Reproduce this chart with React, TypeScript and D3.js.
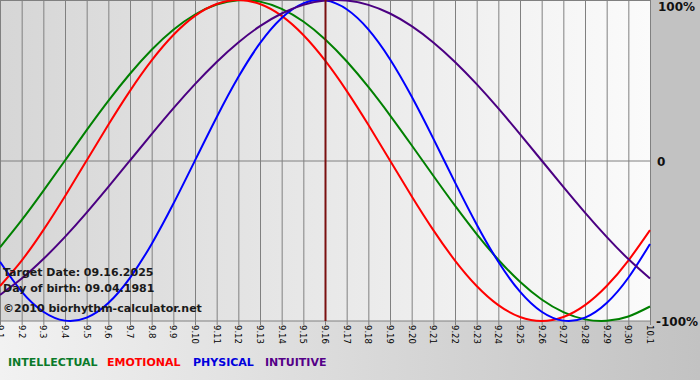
import React from 'react';
import * as d3 from 'd3';

const dates = ['9.1','9.2','9.3','9.4','9.5','9.6','9.7','9.8','9.9','9.10','9.11','9.12','9.13','9.14','9.15','9.16','9.17','9.18','9.19','9.20','9.21','9.22','9.23','9.24','9.25','9.26','9.27','9.28','9.29','9.30','10.1'];
const intellectual = [-0.5406,-0.3717,-0.1893,0,0.1893,0.3717,0.5406,0.6901,0.8146,0.9096,0.9718,0.9989,0.9898,0.9450,0.8660,0.7557,0.6182,0.4582,0.2817,0.0951,-0.0951,-0.2817,-0.4582,-0.6182,-0.7557,-0.8660,-0.9450,-0.9898,-0.9989,-0.9718,-0.9096];
const emotional = [-0.7818,-0.6235,-0.4339,-0.2225,0,0.2225,0.4339,0.6235,0.7818,0.9010,0.9749,1,0.9749,0.9010,0.7818,0.6235,0.4339,0.2225,0,-0.2225,-0.4339,-0.6235,-0.7818,-0.9010,-0.9749,-1,-0.9749,-0.9010,-0.7818,-0.6235,-0.4339];
const physical = [-0.6311,-0.8170,-0.9423,-0.9977,-0.9791,-0.8879,-0.7308,-0.5196,-0.2698,0,0.2698,0.5196,0.7308,0.8879,0.9791,0.9977,0.9423,0.8170,0.6311,0.3984,0.1362,-0.1362,-0.3984,-0.6311,-0.8170,-0.9423,-0.9977,-0.9791,-0.8879,-0.7308,-0.5196];
const intuitive = [-0.8372,-0.7357,-0.6142,-0.4759,-0.3247,-0.1646,0,0.1646,0.3247,0.4759,0.6142,0.7357,0.8372,0.9158,0.9694,0.9966,0.9966,0.9694,0.9158,0.8372,0.7357,0.6142,0.4759,0.3247,0.1646,0,-0.1646,-0.3247,-0.4759,-0.6142,-0.7357];
const seriesNames = ['INTELLECTUAL','EMOTIONAL','PHYSICAL','INTUITIVE'];
const yTickLabels = ['100%','0','-100%'];
const yTickValues = [1, 0, -1];
const targetIndex = 15;
const infoLines = ['Target Date: 09.16.2025', 'Day of birth: 09.04.1981', '©2010 biorhythm-calculator.net'];

const W = 700, H = 380;
const PL = 0, PR = 650, PT = 0, PB = 321;

export default function App() {
  const x = d3.scaleLinear().domain([0, dates.length - 1]).range([PL, PR]);
  const y = d3.scaleLinear().domain([-1, 1]).range([PB, PT]);
  const line = d3.line<number>().x((_, i) => x(i)).y(v => y(v)).curve(d3.curveNatural);
  const series = [
    { name: seriesNames[0], values: intellectual, color: '#008000', legend: '#0a7a2a' },
    { name: seriesNames[1], values: emotional, color: '#ff0000', legend: '#ff0000' },
    { name: seriesNames[2], values: physical, color: '#0000ff', legend: '#0000dd' },
    { name: seriesNames[3], values: intuitive, color: '#4b0082', legend: '#550088' },
  ];
  const legendX = [8, 107, 193, 265];
  const font = 'DejaVu Sans, Verdana, sans-serif';
  return (
    <svg width={W} height={H} style={{ position: 'absolute', left: 0, top: 0 }} fontFamily={font}>
      <defs>
        <linearGradient id="bg" x1="0" y1="0" x2="1" y2="0">
          <stop offset="0" stopColor="#f2f2f2" />
          <stop offset="1" stopColor="#c2c2c2" />
        </linearGradient>
        <linearGradient id="plotbg" x1="0" y1="0" x2="1" y2="0">
          <stop offset="0" stopColor="#d6d6d6" />
          <stop offset="1" stopColor="#fbfbfb" />
        </linearGradient>
      </defs>
      <rect x={0} y={0} width={W} height={H} fill="url(#bg)" />
      <rect x={PR} y={0} width={W - PR} height={PB + 1} fill="#c2c2c2" />
      <rect x={PL} y={PT} width={PR - PL} height={PB - PT} fill="url(#plotbg)" />
      {dates.map((d, i) => (
        <line key={'g' + i} x1={x(i) + 0.5} x2={x(i) + 0.5} y1={PT} y2={PB + 4} stroke="#808080" strokeWidth={1} />
      ))}
      {yTickValues.map((v, i) => (
        <line key={'h' + i} x1={PL} x2={PR} y1={Math.min(Math.max(y(v), 0.5), PB) + 0.5 * (v === 0 ? 1 : 0)} y2={Math.min(Math.max(y(v), 0.5), PB) + 0.5 * (v === 0 ? 1 : 0)} stroke="#808080" strokeWidth={1} />
      ))}
      {series.map(s => (
        <path key={s.name} d={line(s.values) || ''} fill="none" stroke={s.color} strokeWidth={2} />
      ))}
      <line x1={x(targetIndex) + 0.5} x2={x(targetIndex) + 0.5} y1={PT} y2={PB} stroke="#7a1010" strokeWidth={2} />
      {dates.map((d, i) => (
        <text key={'t' + i} transform={`translate(${x(i)},${PB + 4}) rotate(90)`} dy="0.35em" fontSize={8.5} fill="#000">{d}</text>
      ))}
      {yTickLabels.map((t, i) => (
        <text key={'yl' + i} x={yTickValues[i] === 1 ? 658 : yTickValues[i] === 0 ? 657 : 656} y={Math.min(Math.max(y(yTickValues[i]), 6), PB) + 5} fontSize={12} fontWeight="bold" fill="#111">{t}</text>
      ))}
      {infoLines.map((t, i) => (
        <text key={'i' + i} x={3} y={[276, 292, 312][i]} fontSize={11} fontWeight="bold" fill="#1a1a1a">{t}</text>
      ))}
      {series.map((s, i) => (
        <text key={'lg' + i} x={legendX[i]} y={366} fontSize={11} fontWeight="bold" fill={s.legend}>{s.name}</text>
      ))}
    </svg>
  );
}
